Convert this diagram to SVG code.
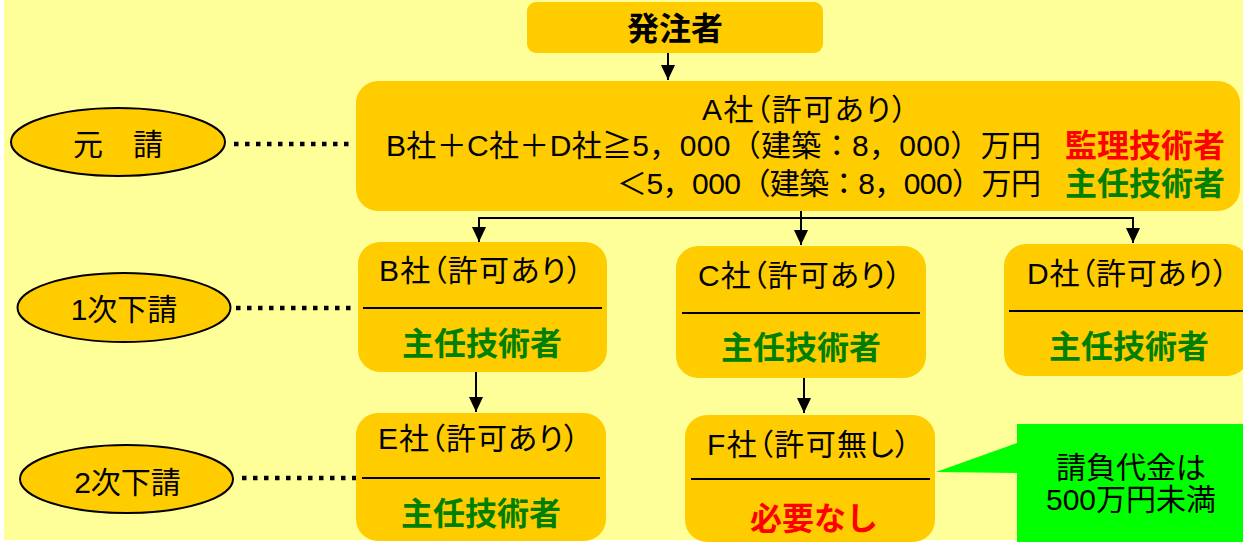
<svg xmlns="http://www.w3.org/2000/svg" width="1243" height="542" viewBox="0 0 1243 542">
<defs>
<style>
.t{font-family:"Liberation Sans","Noto Sans CJK JP",sans-serif;font-size:30px;fill:#000}
.p{font-feature-settings:"palt"}
.b{font-family:"Liberation Sans","Noto Sans CJK JP",sans-serif;font-size:32px;font-weight:bold}
.g{fill:#008000}
.r{fill:#FF0000}
.box{fill:#FFCC00}
.ell{fill:#FFCC00;stroke:#000;stroke-width:2}
.div{stroke:#000;stroke-width:2}
.con{stroke:#000;stroke-width:2;fill:none}
.dot{stroke:#000;stroke-width:4.5;stroke-dasharray:4.5 6.5;fill:none}
.et{font-family:"Liberation Sans","Noto Sans CJK JP",sans-serif;font-size:30px;fill:#000;text-anchor:middle}
</style>
<marker id="arr" viewBox="0 0 15 14" refX="15" refY="7" markerWidth="15" markerHeight="14" markerUnits="userSpaceOnUse" orient="auto">
<path d="M0,0 L15,7 L0,14 Z" fill="#000"/>
</marker>
</defs>
<rect x="0" y="0" width="1243" height="542" fill="#FFFFFF"/>
<rect x="4" y="0" width="1239" height="540" fill="#FFFF99"/>

<g id="connectors">
<line class="con" x1="668" y1="53" x2="668" y2="80" marker-end="url(#arr)"/>
<line class="con" x1="801" y1="211" x2="801" y2="245" marker-end="url(#arr)"/>
<polyline class="con" points="479,242 479,218 1133,218 1133,243"/>
<line class="con" x1="479" y1="226" x2="479" y2="242" marker-end="url(#arr)"/>
<line class="con" x1="1133" y1="226" x2="1133" y2="243" marker-end="url(#arr)"/>
<line class="con" x1="476" y1="372" x2="476" y2="412" marker-end="url(#arr)"/>
<line class="con" x1="804" y1="378" x2="804" y2="413" marker-end="url(#arr)"/>
<line class="dot" x1="234" y1="144" x2="350" y2="144"/>
<line class="dot" x1="236" y1="308" x2="351" y2="308"/>
<line class="dot" x1="242" y1="478" x2="356" y2="478"/>
</g>

<g id="orderer">
<rect class="box" x="527" y="2" width="296" height="51" rx="9"/>
<text class="b" x="627" y="40" font-size="31" fill="#000">発注者</text>
</g>

<g id="companyA">
<rect class="box" x="356" y="81" width="884" height="130" rx="22"/>
<text class="t p" x="702" y="120" textLength="205" lengthAdjust="spacing">A社（許可あり）</text>
<text class="t" x="386" y="156" textLength="655" lengthAdjust="spacing">B社＋C社＋D社≧5，000（建築：8，000）万円</text>
<text class="t" x="617" y="194" textLength="424" lengthAdjust="spacing">＜5，000（建築：8，000）万円</text>
<text class="b r" x="1065" y="157">監理技術者</text>
<text class="b g" x="1065" y="195">主任技術者</text>
</g>

<g id="label-moto">
<ellipse class="ell" cx="118" cy="142" rx="107" ry="34"/>
<text class="et" x="118" y="155" font-size="28">元　請</text>
</g>

<g id="label-1ji">
<ellipse class="ell" cx="124" cy="307.5" rx="106.5" ry="34.5"/>
<text class="et" x="124" y="320">1次下請</text>
</g>

<g id="label-2ji">
<ellipse class="ell" cx="126.5" cy="479" rx="106.5" ry="34"/>
<text class="et" x="127.5" y="493">2次下請</text>
</g>

<g id="companyB">
<rect class="box" x="358" y="242" width="249" height="130" rx="22"/>
<text class="t p" x="379" y="281" textLength="203" lengthAdjust="spacing">B社（許可あり）</text>
<line class="div" x1="363" y1="308" x2="602" y2="308"/>
<text class="b g" x="402" y="355">主任技術者</text>
</g>

<g id="companyC">
<rect class="box" x="676" y="246" width="250" height="132" rx="22"/>
<text class="t p" x="698" y="286" textLength="203" lengthAdjust="spacing">C社（許可あり）</text>
<line class="div" x1="682" y1="313" x2="920" y2="313"/>
<text class="b g" x="721" y="359">主任技術者</text>
</g>

<g id="companyD">
<rect class="box" x="1004" y="244" width="245" height="132" rx="22"/>
<text class="t p" x="1027" y="284" textLength="201" lengthAdjust="spacing">D社（許可あり）</text>
<line class="div" x1="1009" y1="311" x2="1243" y2="311"/>
<text class="b g" x="1049" y="358">主任技術者</text>
</g>

<g id="companyE">
<rect class="box" x="356" y="413" width="250" height="128" rx="22"/>
<text class="t p" x="378" y="449" textLength="201" lengthAdjust="spacing">E社（許可あり）</text>
<line class="div" x1="362" y1="478" x2="600" y2="478"/>
<text class="b g" x="401" y="525">主任技術者</text>
</g>

<g id="companyF">
<rect class="box" x="685" y="415" width="250" height="127" rx="22"/>
<text class="t p" x="707" y="455" textLength="203" lengthAdjust="spacing">F社（許可無し）</text>
<line class="div" x1="691" y1="479" x2="930" y2="479"/>
<text class="b r" x="750" y="530">必要なし</text>
</g>

<g id="callout">
<path d="M1017,424 H1243 V542 H1017 V473 L936,472 L1017,443 Z" fill="#00FF00"/>
<text class="et" x="1131" y="478" font-size="31">請負代金は</text>
<text class="et" x="1131" y="510" font-size="31">500万円未満</text>
</g>
</svg>
